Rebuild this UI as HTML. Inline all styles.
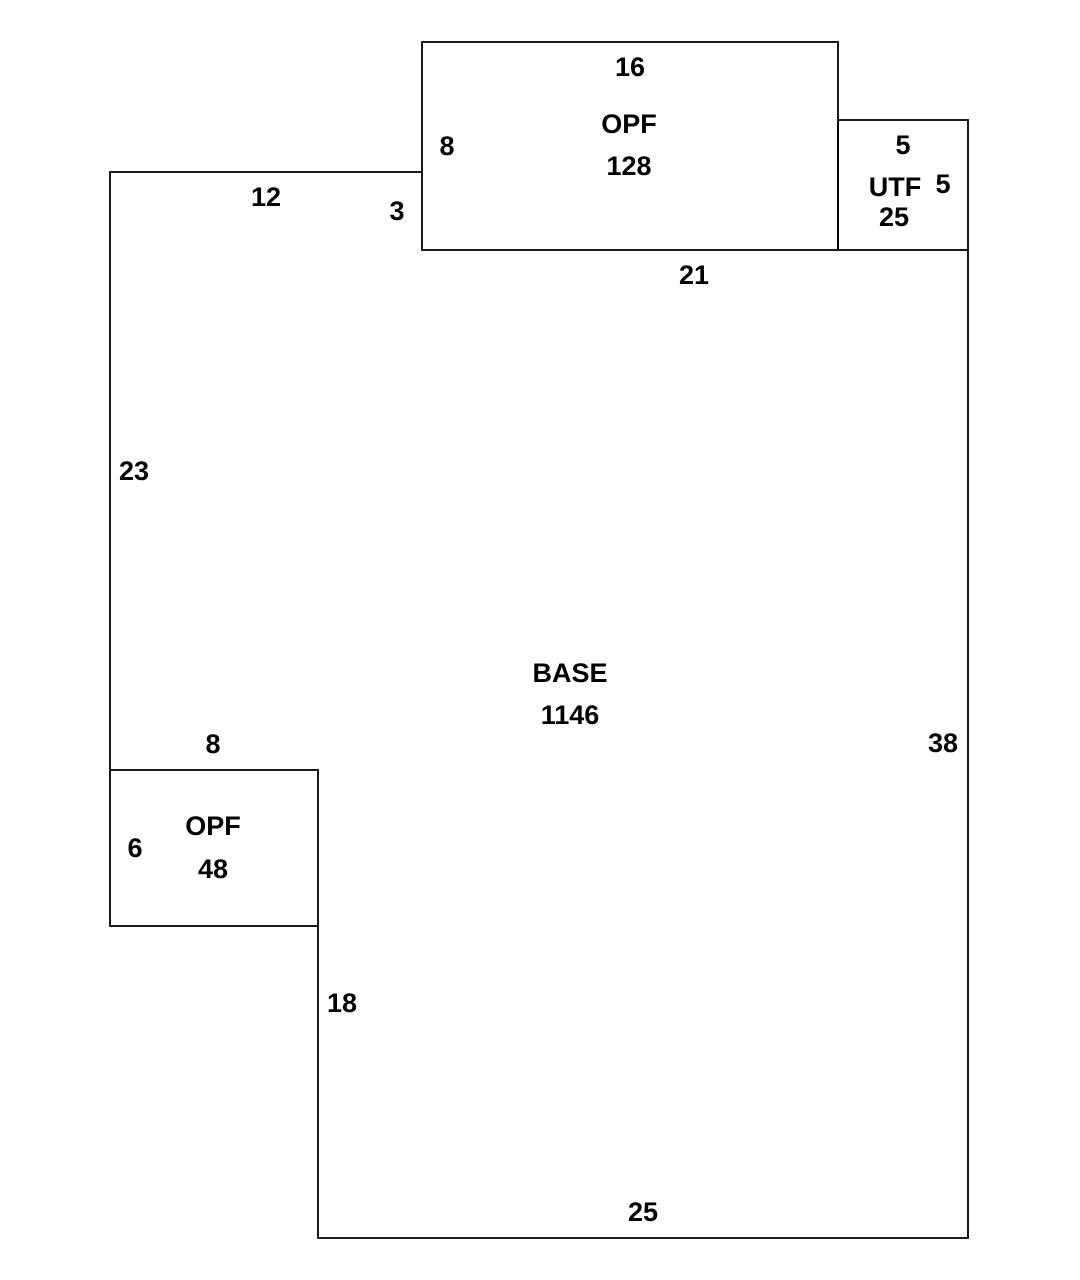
<!DOCTYPE html>
<html><head><meta charset="utf-8"><style>
html,body{margin:0;padding:0;background:#fff;}
svg{display:block;}
text{font-family:"Liberation Sans",Arial,sans-serif;font-weight:bold;font-size:27px;fill:#000;text-anchor:middle;dominant-baseline:central;}
</style></head><body>
<svg width="1080" height="1280" viewBox="0 0 1080 1280" xmlns="http://www.w3.org/2000/svg">
<g stroke="#000" stroke-width="1.8" fill="none">
<rect x="422" y="42" width="416" height="208"/>
<rect x="838" y="120" width="130" height="130"/>
<rect x="110" y="770" width="208" height="156"/>
<polyline points="422,172 110,172 110,770"/>
<polyline points="318,926 318,1238 968,1238 968,250"/>
</g>
<text x="630" y="67">16</text>
<text x="629" y="124">OPF</text>
<text x="629" y="166">128</text>
<text x="447" y="146">8</text>
<text x="266" y="197">12</text>
<text x="397" y="211">3</text>
<text x="903" y="145">5</text>
<text x="895" y="187">UTF</text>
<text x="943" y="184">5</text>
<text x="894" y="217">25</text>
<text x="694" y="275">21</text>
<text x="134" y="471">23</text>
<text x="570" y="673">BASE</text>
<text x="570" y="715">1146</text>
<text x="943" y="743">38</text>
<text x="213" y="744">8</text>
<text x="213" y="826">OPF</text>
<text x="135" y="848">6</text>
<text x="213" y="869">48</text>
<text x="342" y="1003">18</text>
<text x="643" y="1212">25</text>
</svg>
</body></html>
